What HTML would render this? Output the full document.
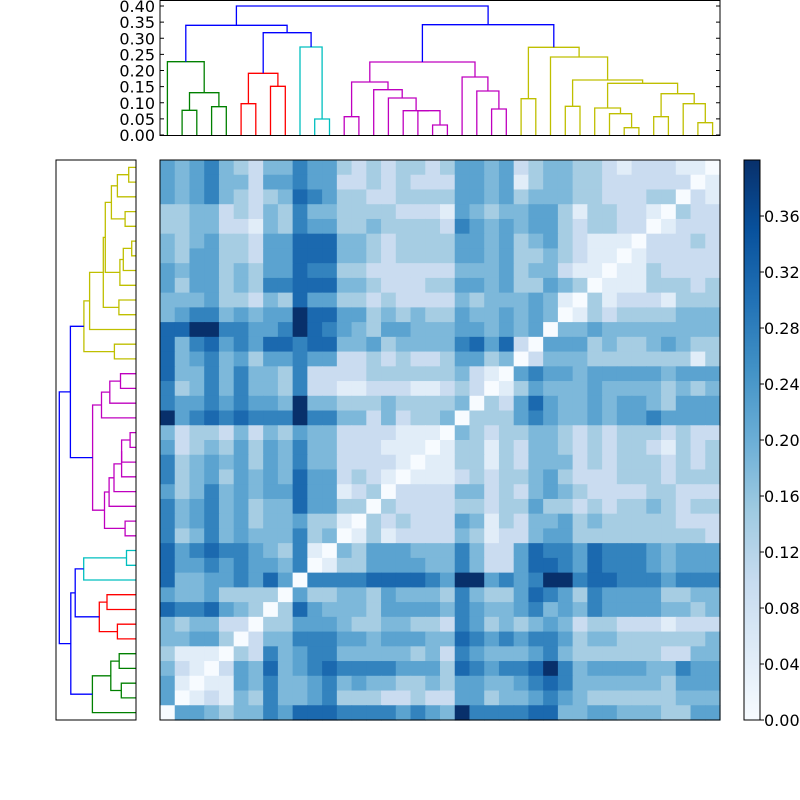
<!DOCTYPE html>
<html><head><meta charset="utf-8"><style>
html,body{margin:0;padding:0;background:#fff;width:800px;height:800px;overflow:hidden}
svg text{font-family:"DejaVu Sans","Liberation Sans",sans-serif;font-size:16px;fill:#000}
</style></head><body>
<svg id="s" width="800" height="800" xmlns="http://www.w3.org/2000/svg">
<defs><linearGradient id="cb" x1="0" y1="1" x2="0" y2="0">
<stop offset="0" stop-color="#f7fbff"/><stop offset="0.125" stop-color="#deebf7"/><stop offset="0.25" stop-color="#c6dbef"/><stop offset="0.375" stop-color="#9ecae1"/><stop offset="0.5" stop-color="#6baed6"/><stop offset="0.625" stop-color="#4292c6"/><stop offset="0.75" stop-color="#2171b5"/><stop offset="0.875" stop-color="#08519c"/><stop offset="1" stop-color="#08306b"/>
</linearGradient></defs>
<g id="hm"></g>
<rect x="160" y="160" width="560" height="560" fill="none" stroke="#000" stroke-width="1"/>
<g id="dt"></g>
<rect x="160" y="0.5" width="560" height="135" fill="none" stroke="#000" stroke-width="1"/>
<rect x="56" y="160" width="80" height="560" fill="none" stroke="#000" stroke-width="1"/>
<rect x="744" y="160" width="16" height="560" fill="url(#cb)" stroke="#000" stroke-width="1"/>
<g id="tk"></g>
</svg>
<script>
var Q1=["5 4 5 6 4 3 2 4 4 6 5 5 3 2 3 2 3 3 2","5 4 5 6 4 4 2 5 5 6 5 5 2 2 3 2 3 2 2","5 4 5 6 4 3 2 3 4 7 6 5 3 3 2 2 3 3 3","3 3 4 4 2 3 2 4 3 6 4 4 3 3 3 3 2 2 2","3 3 4 4 2 2 1 4 3 6 5 5 3 3 4 3 3 3 3","4 3 4 5 3 3 2 5 5 7 7 7 4 4 3 2 3 3 3","4 3 5 5 3 3 2 5 5 7 7 7 4 4 3 2 3 3 3","5 4 5 5 3 4 3 5 5 7 6 6 3 3 2 2 2 2 2","5 3 5 5 3 4 3 6 6 7 7 7 4 4 3 2 2 2 3","4 4 4 5 3 3 2 4 3 7 5 5 3 3 2 3 2 2 2","4 5 6 6 4 5 4 5 5 8 7 7 5 5 3 4 3 4 3","7 7 8 8 6 6 5 5 6 8 7 6 5 4 3 5 5 4 4","7 4 6 7 5 6 5 7 7 6 7 7 4 4 5 3 4 4 4","7 4 5 6 4 5 3 5 5 6 5 5 2 2 3 2 3 2 2","7 4 4 6 4 6 4 4 3 6 2 2 2 2 3 3 3 3 3","6 3 4 6 4 6 4 4 3 6 2 2 1 1 2 2 2 1 1","6 5 5 6 5 6 5 5 4 8 4 4 3 3 3 4 3 3 3","8 5 6 7 6 7 6 6 6 8 6 6 4 4 2 4 2 3 3","4 2 3 3 2 4 2 4 3 5 4 4 2 2 2 2 1 1 1"];
var Q2=["3 5 5 4 5 2 3 4 4 3 3 2 1 2 2 2 1 1 0","2 5 5 4 5 1 3 4 4 3 3 2 2 2 2 2 2 0 1","3 5 5 4 5 3 4 4 4 3 3 2 2 2 3 3 0 2 1","1 5 4 3 4 4 5 5 3 1 3 3 2 2 1 0 3 2 2","2 6 5 4 5 4 5 5 3 2 3 3 2 2 0 1 2 2 2","3 5 5 4 5 3 4 5 3 2 1 1 1 0 2 2 2 3 2","3 5 5 4 5 3 3 4 3 2 1 1 0 1 2 2 2 2 2","2 4 4 4 5 3 4 4 2 1 1 0 1 1 3 2 2 2 2","3 5 5 4 5 3 3 5 4 3 0 1 1 1 3 3 3 2 3","2 4 3 4 4 4 5 4 1 0 3 1 2 2 2 1 3 3 3","3 5 4 4 5 4 5 4 0 1 3 2 3 3 3 3 4 4 4","4 5 5 4 5 4 5 0 4 4 5 4 4 4 4 4 4 4 4","4 6 7 5 7 2 0 5 5 5 3 4 3 3 4 5 4 3 3","3 5 5 3 4 0 2 4 4 4 3 3 3 3 3 3 3 1 3","3 4 2 1 0 5 6 5 5 4 5 5 5 5 5 4 5 5 5","2 3 2 0 1 3 5 4 4 4 5 4 4 4 4 3 4 3 4","3 4 0 3 2 5 7 5 4 4 5 4 5 5 4 3 5 5 5","4 0 3 3 3 5 6 5 4 4 5 4 5 5 6 5 5 5 5","0 4 3 2 3 3 4 4 3 2 3 2 3 3 3 2 3 2 2"];
var Q3=["5 2 3 4 3 5 3 5 4 6 4 4 2 2 2 1 1 1 0","6 3 4 5 4 5 3 5 4 6 4 4 2 2 2 2 1 0 1","6 3 4 5 3 5 4 5 4 7 5 5 2 3 2 1 0 1 1","5 3 4 6 4 5 4 5 5 7 5 5 1 2 3 0 2 2 2","6 4 5 6 4 5 3 4 4 7 5 5 3 3 0 3 2 2 2","6 4 5 6 4 5 3 4 4 5 3 3 1 0 3 2 3 2 2","6 3 4 6 4 5 4 4 4 6 3 4 0 1 3 1 2 2 2","7 5 6 7 6 6 5 4 3 6 1 0 4 3 5 5 5 4 4","7 5 5 6 5 6 5 5 4 6 0 1 3 3 5 5 5 5 4","7 4 4 5 5 6 5 7 5 0 6 6 6 6 7 7 7 7 6","5 4 4 5 3 3 3 3 0 5 3 3 4 4 3 5 4 4 4","7 6 6 7 5 4 3 0 3 7 5 4 4 4 3 5 5 5 5","4 3 4 4 2 2 0 3 3 5 5 5 4 3 3 4 4 3 3","4 4 5 5 3 0 2 4 4 6 6 6 5 5 4 5 5 5 4","3 1 1 1 0 3 2 6 4 5 6 6 4 4 4 4 4 3 4","4 2 1 0 2 5 4 7 4 5 6 7 6 6 6 6 5 5 5","5 1 0 1 1 5 4 6 4 4 5 6 4 5 4 4 3 3 4","5 0 1 2 1 4 3 6 4 4 5 6 3 3 3 2 2 3 2","0 5 5 4 3 4 4 6 5 7 7 7 6 6 6 6 5 6 5"];
var Q4=["1 3 3 1 3 2 4 4 3 2 3 2 3 3 2 1 3 2 3","1 3 3 1 3 2 4 4 4 2 3 2 3 3 3 2 3 2 3","1 2 3 2 3 3 4 5 3 2 2 2 3 3 3 2 3 3 3","2 4 4 2 3 2 4 5 4 3 2 2 2 2 3 3 2 2 2","2 3 3 2 3 3 5 3 3 2 3 2 3 3 4 3 2 3 3","2 5 4 1 3 2 4 4 5 3 4 3 3 3 3 3 2 2 2","2 4 3 1 2 2 4 5 5 3 3 3 3 3 3 3 3 3 2","4 6 4 2 2 5 7 6 6 5 7 6 6 6 5 4 5 5 5","4 6 4 2 2 5 7 7 6 5 7 6 6 6 5 4 5 5 5","5 8 8 5 6 5 6 8 8 6 7 7 6 6 6 5 6 6 6","3 6 4 3 3 5 7 6 5 3 6 5 5 5 5 3 3 4 4","4 6 5 4 4 5 6 4 5 4 6 5 5 5 5 4 4 3 4","2 6 5 3 4 3 4 5 4 2 3 3 2 2 2 1 2 2 2","4 7 6 5 6 5 6 6 5 3 4 4 3 3 3 3 3 3 4","2 6 5 4 4 4 5 6 4 3 3 3 3 3 3 2 2 4 4","3 7 6 5 6 6 7 8 6 4 5 5 5 5 4 4 6 5 5","3 5 5 4 4 5 6 7 6 4 4 4 4 4 4 3 5 5 5","2 5 5 3 4 4 5 6 5 4 3 3 3 3 3 3 4 4 4","4 8 6 6 6 6 7 7 4 4 5 5 4 4 4 3 3 5 5"];
var C=['#f7fbff','#e1edf8','#cadcf0','#a6cde3','#7db8da','#5ba3d0','#3383be','#1b69af','#08306b'];
var NS="http://www.w3.org/2000/svg";
function el(p,t,a){var e=document.createElementNS(NS,t);for(var k in a)e.setAttribute(k,a[k]);p.appendChild(e);return e;}
var hm=document.getElementById('hm'),cs=560/38;
for(var r=0;r<38;r++){var row=(r<19?Q1[r]+" "+Q2[r]:Q3[r-19]+" "+Q4[r-19]).split(" ");
for(var c=0;c<38;c++){el(hm,'rect',{x:(160+c*cs).toFixed(2),y:(160+r*cs).toFixed(2),width:(cs+0.6).toFixed(2),height:(cs+0.6).toFixed(2),fill:C[+row[c]]});}}
var dt=document.getElementById('dt');
function L(i){return 160+(i+0.5)*cs;}
function nd(a){return typeof a==='number'?{x:L(a),y:135}:a;}
function tl(x,y){return [136-(135-y)*0.5946,880-x];}
function link(a,b,h,col){a=nd(a);b=nd(b);
var pts=[[a.x,a.y],[a.x,h],[b.x,h],[b.x,b.y]];
el(dt,'polyline',{points:pts.map(function(p){return p[0].toFixed(1)+","+p[1].toFixed(1)}).join(" "),fill:"none",stroke:col,"stroke-width":1.3});
el(dt,'polyline',{points:pts.map(function(p){var q=tl(p[0],p[1]);return q[0].toFixed(1)+","+q[1].toFixed(1)}).join(" "),fill:"none",stroke:col,"stroke-width":1.3});
return {x:(a.x+b.x)/2,y:h};}
var G='#008000',R='#ff0000',Cy='#00bfbf',M='#bf00bf',Y='#bfbf00',B='#0000ff';
var g1=link(1,2,110.3,G),g2=link(3,4,106.7,G),g3=link(g1,g2,92.7,G),g4=link(0,g3,61.7,G);
var r1=link(5,6,103.7,R),r2=link(7,8,86.3,R),r3=link(r1,r2,73.3,R);
var c1=link(10,11,119,Cy),c2=link(9,c1,47,Cy);
var b1=link(r3,c2,32.7,B),b2=link(g4,b1,25.3,B);
var m1=link(12,13,116.7,M),m2=link(18,19,125,M),m3=link(17,m2,110.7,M),m4=link(16,m3,110.7,M),m5=link(15,m4,98,M),m6=link(14,m5,89.7,M),m7=link(m1,m6,82,M),m8=link(22,23,109,M),m9=link(21,m8,91,M),m10=link(20,m9,77,M),m11=link(m7,m10,62,M);
var y1=link(24,25,98.7,Y),y2=link(27,28,106.3,Y),y3=link(31,32,127.7,Y),y4=link(30,y3,113.7,Y),y5=link(29,y4,108,Y),y6=link(33,34,116.7,Y),y7=link(36,37,122.7,Y),y8=link(35,y7,103.7,Y),y9=link(y6,y8,93.7,Y),y10=link(y5,y9,83.3,Y),y11=link(y2,y10,80,Y),y12=link(26,y11,57,Y),y13=link(y1,y12,47.3,Y);
var b3=link(m11,y13,24.7,B);link(b2,b3,6,B);
var tk=document.getElementById('tk');
for(var i=0;i<=8;i++){var yy=135-i*16.125;
el(tk,'line',{x1:160,y1:yy,x2:164,y2:yy,stroke:'#000'});el(tk,'line',{x1:716,y1:yy,x2:720,y2:yy,stroke:'#000'});
var t=el(tk,'text',{x:155,y:yy+6,'text-anchor':'end'});t.textContent=(i*0.05).toFixed(2);}
for(var i=0;i<=9;i++){var yy=720-i*56;
el(tk,'line',{x1:760,y1:yy,x2:764,y2:yy,stroke:'#000'});
var t=el(tk,'text',{x:764,y:yy+6});t.textContent=(i*0.04).toFixed(2);}
</script>
</body></html>
